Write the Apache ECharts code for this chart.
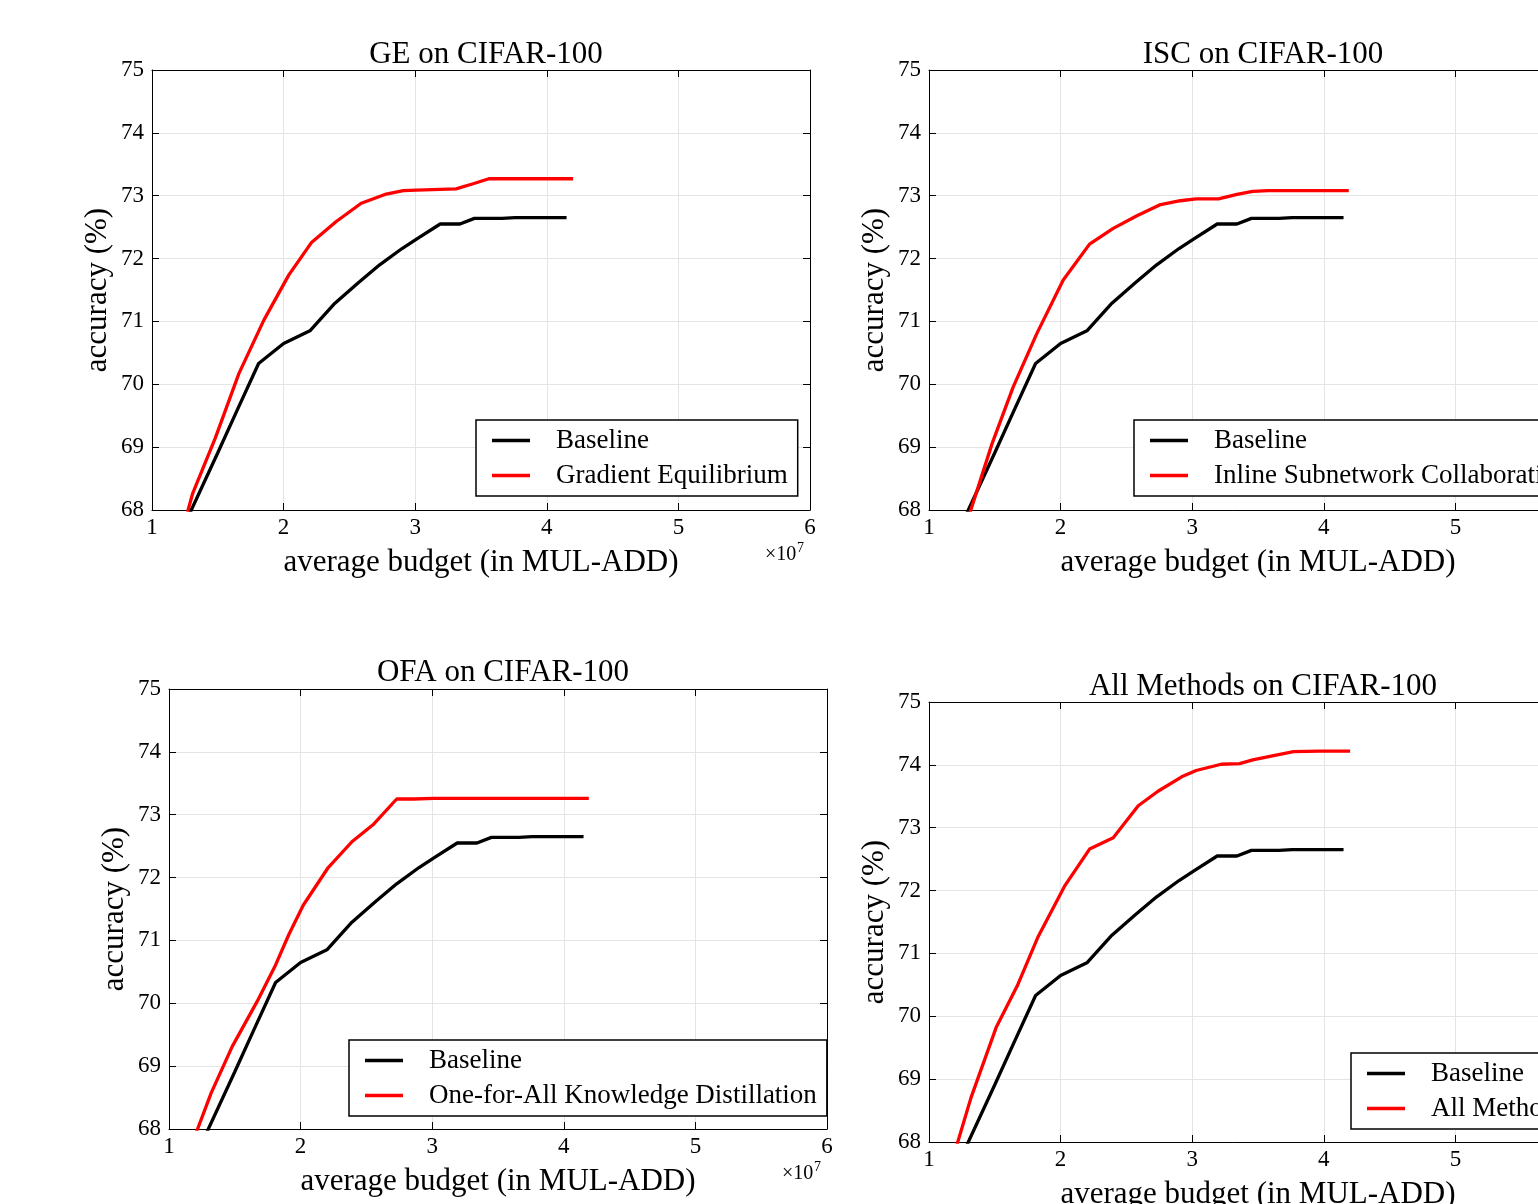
<!DOCTYPE html>
<html>
<head>
<meta charset="utf-8">
<script src="https://cdn.jsdelivr.net/npm/echarts@6/dist/echarts.min.js"></script>
<style>
    html, body { margin: 0; padding: 0; background: #fff; }
    #chart { width: 1538px; height: 1204px; }
</style>
</head>
<body>
<div id="chart"></div>
<script>
// budget in units of 1e7 MUL-ADD, accuracy in %
var baselineX = [1.27, 1.50, 1.65, 1.81, 2.00, 2.20, 2.39, 2.57, 2.73, 2.90, 3.01, 3.19, 3.34, 3.45, 3.66, 3.76, 4.15];
var baselineY = [67.87, 68.91, 69.60, 70.33, 70.65, 70.85, 71.29, 71.62, 71.90, 72.16, 72.31, 72.55, 72.55, 72.64, 72.64, 72.65, 72.65];

var geX = [1.27, 1.31, 1.48, 1.66, 1.85, 2.04, 2.21, 2.40, 2.59, 2.77, 2.91, 3.01, 3.31, 3.44, 3.56, 4.20];
var geY = [67.97, 68.27, 69.14, 70.17, 71.02, 71.74, 72.25, 72.59, 72.88, 73.02, 73.08, 73.09, 73.11, 73.19, 73.27, 73.27];

var iscX = [1.31, 1.48, 1.64, 1.82, 2.02, 2.22, 2.40, 2.58, 2.76, 2.91, 3.03, 3.20, 3.34, 3.46, 3.58, 4.19];
var iscY = [67.95, 69.06, 69.96, 70.81, 71.66, 72.23, 72.48, 72.68, 72.86, 72.92, 72.95, 72.95, 73.02, 73.07, 73.08, 73.08];

var ofaX = [1.21, 1.32, 1.48, 1.67, 1.81, 1.91, 2.02, 2.21, 2.39, 2.55, 2.73, 2.86, 3.01, 4.19];
var ofaY = [67.96, 68.57, 69.31, 70.03, 70.61, 71.09, 71.56, 72.16, 72.57, 72.84, 73.25, 73.25, 73.26, 73.26];

var allX = [1.21, 1.32, 1.51, 1.67, 1.83, 2.03, 2.22, 2.40, 2.59, 2.74, 2.92, 3.03, 3.22, 3.36, 3.46, 3.60, 3.77, 3.97, 4.20];
var allY = [67.94, 68.71, 69.82, 70.48, 71.27, 72.07, 72.66, 72.84, 73.35, 73.58, 73.81, 73.91, 74.01, 74.02, 74.08, 74.14, 74.21, 74.22, 74.22];

var titles = ['GE on CIFAR-100', 'ISC on CIFAR-100', 'OFA on CIFAR-100', 'All Methods on CIFAR-100'];
var methodNames = ['Gradient Equilibrium', 'Inline Subnetwork Collaboration', 'One-for-All Knowledge Distillation', 'All Methods'];
var methodX = [geX, iscX, ofaX, allX];
var methodY = [geY, iscY, ofaY, allY];

var xMin = 1, xMax = 6, xStep = 1;
var yMin = 68, yMax = 75, yStep = 1;

// panel layout (pixels)
var panels = [
    {left: 152, top: 70, titleTop: 34, legendLeft: 476, legendTop: 420},
    {left: 929, top: 70, titleTop: 34, legendLeft: 1134, legendTop: 420},
    {left: 169, top: 689, titleTop: 652, legendLeft: 349, legendTop: 1040},
    {left: 929, top: 702, titleTop: 666, legendLeft: 1351, legendTop: 1053}
];
var plotW = 658, plotH = 440;
var serif = '"Liberation Serif", "DejaVu Serif", serif';

function pairs(xs, ys) {
    var out = [];
    for (var i = 0; i < xs.length; i++) out.push([xs[i], ys[i]]);
    return out;
}

var grid = [], xAxis = [], yAxis = [], series = [], title = [], legend = [], graphic = [];

panels.forEach(function (p, i) {
    grid.push({left: p.left, top: p.top, width: plotW, height: plotH, containLabel: false, outerBoundsMode: 'none'});

    var tick = {show: true, inside: true, length: 7, lineStyle: {color: '#000', width: 1}};
    var line = {show: true, onZero: false, lineStyle: {color: '#000', width: 1}};
    var label = {fontFamily: serif, fontSize: 23, color: '#000'};

    xAxis.push({
        gridIndex: i, type: 'value', position: 'bottom', min: xMin, max: xMax, interval: xStep,
        axisLine: line, axisTick: tick,
        axisLabel: Object.assign({margin: 6, showMinLabel: true, showMaxLabel: true}, label),
        splitLine: {show: true, lineStyle: {color: '#e4e4e4', width: 1}},
        name: 'average budget (in MUL-ADD)', nameLocation: 'middle', nameGap: 37,
        nameTextStyle: {fontFamily: serif, fontSize: 31, color: '#000'}
    });
    xAxis.push({
        gridIndex: i, type: 'value', position: 'top', min: xMin, max: xMax, interval: xStep,
        axisLine: line, axisTick: tick, axisLabel: {show: false}, splitLine: {show: false}
    });
    yAxis.push({
        gridIndex: i, type: 'value', position: 'left', min: yMin, max: yMax, interval: yStep,
        axisLine: line, axisTick: tick,
        axisLabel: Object.assign({margin: 8, showMinLabel: true, showMaxLabel: true}, label),
        splitLine: {show: true, lineStyle: {color: '#e4e4e4', width: 1}},
        name: 'accuracy (%)', nameLocation: 'middle', nameGap: 39,
        nameTextStyle: {fontFamily: serif, fontSize: 31, color: '#000'}
    });
    yAxis.push({
        gridIndex: i, type: 'value', position: 'right', min: yMin, max: yMax, interval: yStep,
        axisLine: line, axisTick: tick, axisLabel: {show: false}, splitLine: {show: false}
    });

    series.push({
        name: 'Baseline', type: 'line', xAxisIndex: i * 2, yAxisIndex: i * 2,
        data: pairs(baselineX, baselineY), showSymbol: false, clip: true, z: 3,
        itemStyle: {color: '#000'}, lineStyle: {color: '#000', width: 3.3}
    });
    series.push({
        name: methodNames[i], type: 'line', xAxisIndex: i * 2, yAxisIndex: i * 2,
        data: pairs(methodX[i], methodY[i]), showSymbol: false, clip: true, z: 3,
        itemStyle: {color: '#ff0000'}, lineStyle: {color: '#ff0000', width: 3.3}
    });

    title.push({
        text: titles[i], left: p.left + plotW / 2, top: p.titleTop, textAlign: 'center',
        textStyle: {fontFamily: serif, fontSize: 31, fontWeight: 'normal', color: '#000'}
    });

    legend.push({
        data: ['Baseline', methodNames[i]], orient: 'vertical',
        left: p.legendLeft, top: p.legendTop,
        icon: 'rect', itemWidth: 38, itemHeight: 3.3, itemGap: 8,
        padding: [7, 10, 7, 16],
        borderColor: '#000', borderWidth: 1.5, backgroundColor: '#fff',
        selectedMode: false,
        textStyle: {fontFamily: serif, fontSize: 27, color: '#000', padding: [0, 0, 0, 21]}
    });

    // x10^7 exponent label
    graphic.push({
        type: 'text', left: p.left + plotW - 45, top: p.top + plotH + 35,
        style: {text: '\u00d710', font: '20px ' + serif, fill: '#000'}
    });
    graphic.push({
        type: 'text', left: p.left + plotW - 13, top: p.top + plotH + 31,
        style: {text: '7', font: '14px ' + serif, fill: '#000'}
    });
});

var chart = echarts.init(document.getElementById('chart'));
chart.setOption({
    animation: false,
    backgroundColor: '#fff',
    title: title,
    legend: legend,
    grid: grid,
    xAxis: xAxis,
    yAxis: yAxis,
    series: series,
    graphic: graphic
});
</script>
</body>
</html>
